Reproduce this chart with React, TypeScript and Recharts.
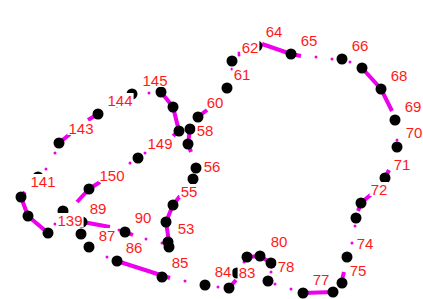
import React from "react";
import { ScatterChart, Scatter, XAxis, YAxis } from "recharts";

// black dots (x, y in picture units, y grows downward)
const dots: [number, number][] = [
  [132, 94], [161, 92], [173, 107], [179, 131], [190, 129], [198, 117],
  [188, 144], [227, 88], [232, 61], [257, 46], [291, 54], [342, 59],
  [362, 68], [381, 89], [395, 120], [397, 147], [385, 178], [361, 203],
  [356, 218], [347, 257], [342, 283], [333, 292], [303, 293], [268, 281],
  [271, 263], [260, 256], [247, 257], [237, 273], [229, 288], [205, 285],
  [162, 277], [117, 261], [89, 247], [81, 234], [82, 222], [63, 211],
  [48, 233], [28, 216], [21, 197], [59, 143], [98, 114], [89, 189],
  [138, 158], [125, 232], [169, 247], [168, 242], [166, 222], [173, 205],
  [193, 179], [196, 168], [38, 177],
];

// thick magenta strokes
const strokes: [number, number][][] = [
  [[161, 92], [173, 107], [179, 131], [173, 136]],
  [[198, 117], [207, 110]],
  [[190, 129], [188, 144], [191, 152]],
  [[98, 114], [88, 120]],
  [[59, 143], [70, 134]],
  [[262, 44], [291, 54], [301, 56]],
  [[362, 68], [381, 89], [392, 111]],
  [[100, 182], [89, 189], [77, 202]],
  [[25, 192], [21, 197], [28, 216], [48, 233]],
  [[83, 222], [110, 227]],
  [[125, 232], [133, 235]],
  [[117, 261], [170, 278]],
  [[180, 196], [173, 205], [166, 222], [169, 242]],
  [[389, 170], [385, 178]],
  [[374, 192], [361, 203], [358, 211]],
  [[344, 272], [341, 284]],
  [[303, 293], [333, 292]],
  [[247, 257], [260, 256], [271, 263], [273, 268]],
  [[229, 288], [236, 280]],
];

// little magenta specks
const specks: [number, number][] = [
  [149, 93], [117, 106], [239, 53], [232, 69], [316, 57], [332, 59],
  [350, 62], [397, 140], [55, 153], [46, 169], [55, 224], [146, 239],
  [162, 243], [107, 257], [185, 281], [119, 230], [355, 226], [352, 243],
  [291, 289], [275, 284], [271, 272], [218, 287], [244, 262], [145, 153],
  [130, 163], [239, 55],
];

// number labels
const labels: [string, number, number][] = [
  ["145", 155, 80], ["144", 120, 100], ["143", 81, 128], ["149", 160, 143],
  ["58", 205, 130], ["60", 215, 102], ["61", 242, 74], ["62", 250, 47],
  ["64", 274, 31], ["65", 309, 40], ["66", 360, 45], ["68", 399, 75],
  ["69", 413, 106], ["70", 414, 132], ["71", 402, 164], ["72", 379, 189],
  ["74", 365, 243], ["75", 358, 270], ["77", 321, 279], ["78", 286, 266],
  ["80", 279, 241], ["83", 247, 272], ["84", 223, 271], ["85", 180, 262],
  ["86", 134, 247], ["87", 107, 235], ["90", 143, 217], ["89", 98, 208],
  ["139", 70, 220], ["150", 112, 175], ["141", 43, 181], ["56", 212, 166],
  ["55", 189, 191], ["53", 186, 228],
];

const toPts = (arr: [number, number][]) => arr.map(([x, y]) => ({ x, y }));

const LabelMark = (p: any) => {
  const w = p.payload.label.length * 8.4 + 2;
  return (
    <g>
      <rect x={p.cx - w / 2} y={p.cy - 7} width={w} height={14} fill="#fff" />
      <text
        x={p.cx}
        y={p.cy}
        textAnchor="middle"
        dominantBaseline="central"
        fill="#ff1a1a"
        fontSize={15}
        fontFamily="'Liberation Sans', Arial, sans-serif"
      >
        {p.payload.label}
      </text>
    </g>
  );
};

const App: React.FC = () => {
  return (
    <div style={{ position: "absolute", left: 0, top: 0, background: "#fff" }}>
      <ScatterChart width={423} height={299} margin={{ top: 0, right: 0, bottom: 0, left: 0 }}>
        <XAxis type="number" dataKey="x" domain={[0, 423]} hide />
        <YAxis type="number" dataKey="y" domain={[0, 299]} reversed hide />
        {strokes.map((s, i) => (
          <Scatter
            key={"s" + i}
            data={toPts(s)}
            line={{ stroke: "#ee00ee", strokeWidth: 4 }}
            lineType="joint"
            shape={() => <g />}
            isAnimationActive={false}
          />
        ))}
        <Scatter
          data={toPts(specks)}
          shape={(p: any) => <circle cx={p.cx} cy={p.cy} r={1.5} fill="#ee00ee" />}
          isAnimationActive={false}
        />
        <Scatter
          data={toPts(dots)}
          shape={(p: any) => <circle cx={p.cx} cy={p.cy} r={5.5} fill="#000" />}
          isAnimationActive={false}
        />
        <Scatter
          data={labels.map(([label, x, y]) => ({ label, x, y }))}
          shape={LabelMark}
          isAnimationActive={false}
        />
      </ScatterChart>
    </div>
  );
};

export default App;
